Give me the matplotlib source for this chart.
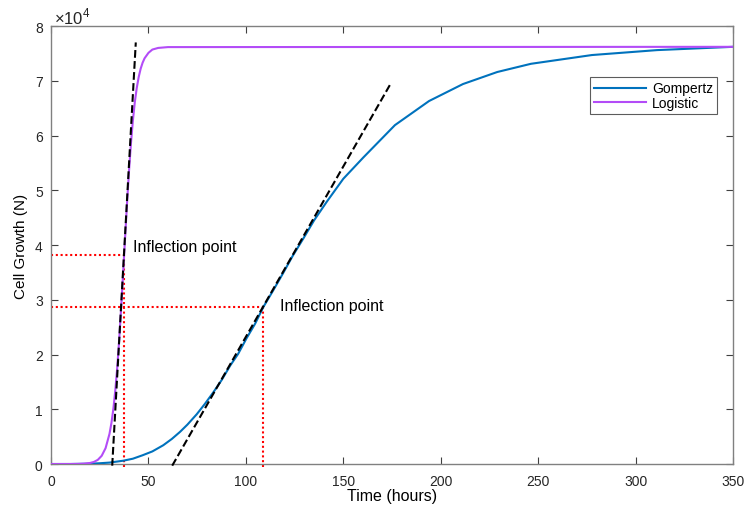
import matplotlib
matplotlib.use('Agg')
import matplotlib.pyplot as plt
import numpy as np

plt.rcParams['font.family'] = ['Liberation Sans', 'DejaVu Sans']
plt.rcParams['mathtext.fontset'] = 'custom'
plt.rcParams['mathtext.rm'] = 'Liberation Sans'

# ==================== DATA (cell counts in units of 1e4) ====================
gompertz_t = [0, 10, 20, 25, 30, 37, 42, 47, 52, 57.6, 62, 66.2, 70, 74.8, 79, 83.3, 87.5,
              92, 96, 100.4, 104.7, 109, 114, 119, 124, 129.5, 135, 141.5, 150, 160.3,
              176.5, 194, 211.4, 229, 246.3, 277.6, 311, 350]
gompertz_n = [0, 0.0001, 0.006, 0.014, 0.026, 0.06, 0.097, 0.16, 0.23, 0.343, 0.458, 0.587,
              0.72, 0.91, 1.10, 1.31, 1.53, 1.80, 2.01, 2.30, 2.56, 2.87, 3.17, 3.48, 3.80,
              4.12, 4.45, 4.79, 5.21, 5.60, 6.19, 6.63, 6.94, 7.16, 7.31, 7.47, 7.56, 7.62]

logistic_t = [0, 10, 14, 17, 20, 22, 24, 26, 28, 30, 31, 32, 33, 34, 35, 36, 37, 37.5, 38,
              39, 40, 41, 42, 43, 44, 45, 46, 47, 48, 50, 52, 55, 60, 350]
logistic_n = [0, 0.0006, 0.0025, 0.007, 0.019, 0.038, 0.076, 0.15, 0.29, 0.55, 0.75, 1.01,
              1.35, 1.77, 2.28, 2.86, 3.49, 3.81, 4.13, 4.76, 5.34, 5.85, 6.27, 6.61, 6.87,
              7.07, 7.22, 7.33, 7.41, 7.51, 7.57, 7.60, 7.615, 7.62]

# tangent lines at the inflection points (end points)
logistic_tan_t = [31.4, 43.5]
logistic_tan_n = [-0.03, 7.70]
gompertz_tan_t = [62.2, 174.5]
gompertz_tan_n = [-0.03, 6.96]

# inflection points
logistic_infl = (37.5, 3.81)
gompertz_infl = (109.0, 2.87)

GOMPERTZ_COLOR = '#0072bd'
LOGISTIC_COLOR = '#b34cf7'

fig = plt.figure(figsize=(7.46, 5.06), dpi=100)
ax = fig.add_axes([0.0684, 0.081, 0.9142, 0.8656])

ax.plot(gompertz_t, gompertz_n, color=GOMPERTZ_COLOR, lw=1.5, label='Gompertz', zorder=3)
ax.plot(logistic_t, logistic_n, color=LOGISTIC_COLOR, lw=1.5, label='Logistic', zorder=3)

ax.plot(logistic_tan_t, logistic_tan_n, color='black', ls='--', lw=1.5, clip_on=False, zorder=4)
ax.plot(gompertz_tan_t, gompertz_tan_n, color='black', ls='--', lw=1.5, clip_on=False, zorder=4)

dot = (0, (1, 1.3))
for (tx, ny) in [logistic_infl, gompertz_infl]:
    ax.plot([0, tx], [ny, ny], color='red', ls=dot, lw=1.5, zorder=2)
    ax.plot([tx, tx], [-0.05, ny], color='red', ls=dot, lw=1.5, clip_on=False, zorder=2)

ax.text(42.0, 3.98, 'Inflection point', fontsize=11.5, va='center', ha='left')
ax.text(117.5, 2.89, 'Inflection point', fontsize=11.5, va='center', ha='left')

ax.set_xlim(0, 350)
ax.set_ylim(0, 8)
ax.set_xticks(np.arange(0, 351, 50))
ax.set_yticks(np.arange(0, 9, 1))
ax.set_xlabel('Time (hours)', fontsize=11.5, labelpad=0)
ax.set_ylabel('Cell Growth (N)', fontsize=11, labelpad=5)
ax.text(0.005, 0.998, r'$\times10^{4}$', transform=ax.transAxes, fontsize=12,
        ha='left', va='bottom', color='#262626')

for side in ['left', 'right', 'top', 'bottom']:
    ax.spines[side].set_color('#808080')
    ax.spines[side].set_linewidth(1.0)
ax.tick_params(direction='in', top=True, right=True, length=5, width=0.8,
               color='#404040', labelsize=10, labelcolor='#262626')
ax.tick_params(axis='x', pad=7)
ax.tick_params(axis='y', pad=6)

leg = ax.legend(loc='upper right', bbox_to_anchor=(0.977, 0.883), fontsize=10,
                frameon=True, fancybox=False, handlelength=3.8, handletextpad=0.4,
                borderpad=0.3, labelspacing=0.05, borderaxespad=0)
leg.get_frame().set_edgecolor('#333333')
leg.get_frame().set_linewidth(0.8)

fig.savefig('out.png', dpi=100)
